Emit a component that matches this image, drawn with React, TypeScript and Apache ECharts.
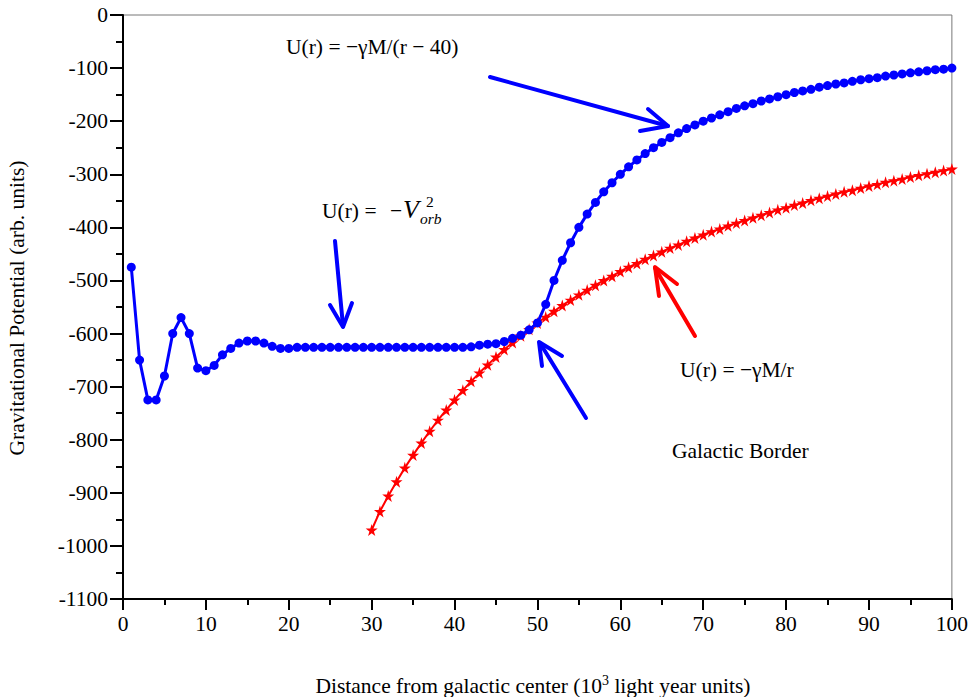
import React, { useEffect, useRef } from "react";
import * as echarts from "echarts";

// Blue curve: U(r) = -V_orb^2 joined to -γM/(r-40), r = 1..100
const blueR: number[] = Array.from({ length: 100 }, (_, i) => i + 1);
const blueU: number[] = [
  -475, -650, -725, -725, -680, -600, -570, -600, -665, -670,
  -660, -640, -628, -618, -614, -614, -618, -624, -628, -628,
  -626, -626, -626, -626, -626, -626, -626, -626, -626, -626,
  -626, -626, -626, -626, -626, -626, -626, -626, -626, -626,
  -626, -625, -622, -620, -619, -615, -609, -603, -593, -580,
  -545, -500, -462, -429, -400, -375, -353, -333, -316, -300,
  -286, -273, -261, -250, -240, -231, -222, -214, -207, -200,
  -194, -188, -182, -176, -171, -167, -162, -158, -154, -150,
  -146, -143, -140, -136, -133, -130, -128, -125, -122, -120,
  -118, -115, -113, -111, -109, -107, -105, -103, -102, -100,
];

// Red curve: U(r) = -γM/r, r = 30..100
const redR: number[] = Array.from({ length: 71 }, (_, i) => i + 30);
const redU: number[] = [
  -970, -935, -906, -879, -853, -829, -806, -784, -763, -744,
  -725, -707, -690, -674, -659, -644, -630, -617, -604, -592,
  -580, -569, -558, -547, -537, -527, -518, -509, -500, -492,
  -483, -475, -468, -460, -453, -446, -439, -433, -426, -420,
  -414, -408, -403, -397, -392, -387, -382, -377, -372, -367,
  -363, -358, -354, -349, -345, -341, -337, -333, -330, -326,
  -322, -319, -315, -312, -309, -305, -302, -299, -296, -293,
  -290,
];

const SERIF = "'Liberation Serif', 'Times New Roman', serif";
const FS = 21.5;
const BLUE = "#0000ff";
const RED = "#ff0000";
const STAR =
  "path://M50,0 L61,35 L98,35 L68,57 L79,91 L50,70 L21,91 L32,57 L2,35 L39,35 Z";

function arrow(color: string, shaft: number[], head: number[][]) {
  return [
    {
      type: "line",
      shape: { x1: shaft[0], y1: shaft[1], x2: shaft[2], y2: shaft[3] },
      style: { stroke: color, lineWidth: 4, lineCap: "round" },
      z: 10,
    },
    {
      type: "polyline",
      shape: { points: head },
      style: { stroke: color, lineWidth: 4, fill: null, lineCap: "round", lineJoin: "round" },
      z: 10,
    },
  ];
}

function txt(x: number, y: number, text: string, fontSize: number, extra: any = {}) {
  return {
    type: "text",
    x,
    y,
    z: 10,
    style: {
      text,
      fontFamily: SERIF,
      fontSize,
      fill: "#000",
      verticalAlign: "middle",
      align: "left",
      ...extra,
    },
  };
}

export default function App() {
  const ref = useRef<HTMLDivElement>(null);
  useEffect(() => {
    if (!ref.current) return;
    const chart = echarts.init(ref.current, undefined, { renderer: "svg" });
    const option: any = {
      animation: false,
      backgroundColor: "#ffffff",
      grid: {
        left: 123,
        right: 16,
        top: 15,
        bottom: 98,
        show: true,
        borderColor: "#777",
        borderWidth: 1,
      },
      xAxis: {
        type: "value",
        min: 0,
        max: 100,
        interval: 10,
        axisLine: { show: true, onZero: false, lineStyle: { color: "#000", width: 2 } },
        axisTick: { show: true, inside: false, length: 11, lineStyle: { color: "#000", width: 2 } },
        minorTick: { show: true, splitNumber: 2, length: 6, lineStyle: { color: "#000", width: 2 } },
        splitLine: { show: false },
        axisLabel: { color: "#000", fontFamily: SERIF, fontSize: FS, margin: 14 },
      },
      yAxis: {
        type: "value",
        min: -1100,
        max: 0,
        interval: 100,
        axisLine: { show: true, onZero: false, lineStyle: { color: "#000", width: 2 } },
        axisTick: { show: true, inside: false, length: 13, lineStyle: { color: "#000", width: 2 } },
        minorTick: { show: true, splitNumber: 2, length: 7, lineStyle: { color: "#000", width: 2 } },
        splitLine: { show: false },
        axisLabel: {
          color: "#000",
          fontFamily: SERIF,
          fontSize: FS,
          margin: 15,
          formatter: (v: number) => String(v),
        },
      },
      series: [
        {
          type: "line",
          data: redR.map((r, i) => [r, redU[i]]),
          symbol: STAR,
          symbolSize: 12,
          showAllSymbol: true,
          lineStyle: { color: RED, width: 2 },
          itemStyle: { color: RED },
          z: 2,
        },
        {
          type: "line",
          data: blueR.map((r, i) => [r, blueU[i]]),
          symbol: "circle",
          symbolSize: 9,
          showAllSymbol: true,
          lineStyle: { color: BLUE, width: 3 },
          itemStyle: { color: BLUE },
          z: 3,
        },
      ],
      graphic: [
        ...arrow(BLUE, [490, 77, 668, 126], [[648, 109], [668, 126], [640, 131]]),
        ...arrow(BLUE, [335, 241, 343, 326], [[330, 305], [343, 327], [352, 303]]),
        ...arrow(BLUE, [586, 418, 540, 343], [[562, 356], [539, 342], [542, 366]]),
        ...arrow(RED, [695, 336, 655, 268], [[677, 284], [655, 267], [659, 296]]),
        txt(286, 47, "U(r) = \u2212\u03b3M/(r \u2212 40)", FS),
        txt(322, 211, "U(r) =", FS),
        txt(390, 211, "\u2212", FS),
        txt(403, 209, "V", 26, { fontStyle: "italic" }),
        txt(426, 201, "2", 15.5),
        txt(420, 218, "orb", 15.5, { fontStyle: "italic" }),
        txt(680, 370, "U(r) = \u2212\u03b3M/r", FS),
        txt(672, 451, "Galactic Border", FS),
        {
          type: "text",
          x: 533,
          y: 685,
          z: 10,
          style: {
            text: "{a|Distance from galactic center (10}{s|3}{a| light year units)}",
            align: "center",
            verticalAlign: "middle",
            rich: {
              a: { fontFamily: SERIF, fontSize: FS, fill: "#000", color: "#000", lineHeight: 24, verticalAlign: "bottom" },
              s: { fontFamily: SERIF, fontSize: 14, fill: "#000", color: "#000", lineHeight: 24, verticalAlign: "top" },
            },
          },
        },
        {
          type: "text",
          x: 17,
          y: 308,
          rotation: Math.PI / 2,
          z: 10,
          style: {
            text: "Gravitational Potential (arb. units)",
            fontFamily: SERIF,
            fontSize: FS,
            fill: "#000",
            align: "center",
            verticalAlign: "middle",
          },
        },
      ],
    };
    chart.setOption(option);
    return () => chart.dispose();
  }, []);
  return (
    <div
      ref={ref}
      style={{ position: "fixed", left: 0, top: 0, width: 971, height: 697, background: "#fff" }}
    />
  );
}
